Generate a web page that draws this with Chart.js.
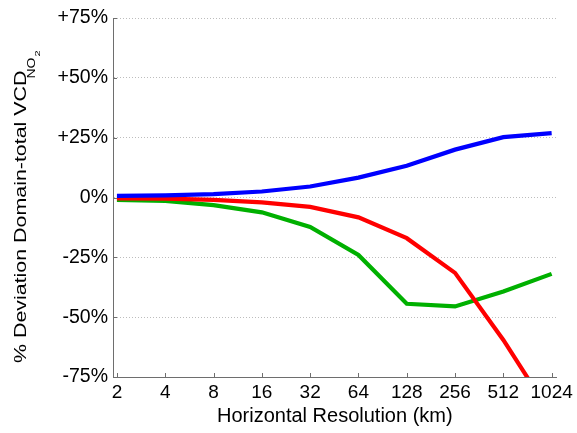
<!DOCTYPE html>
<html>
<head>
<meta charset="utf-8">
<script src="https://cdn.jsdelivr.net/npm/chart.js@4.4.1/dist/chart.umd.min.js"></script>
<style>
html,body{margin:0;padding:0;background:#fff;}
#wrap{width:577px;height:433px;position:relative;}
</style>
</head>
<body>
<div id="wrap"><canvas id="c" width="577" height="433"></canvas></div>
<script>
const resolutions = [2, 4, 8, 16, 32, 64, 128, 256, 512, 1024];
const blueSeries  = [0.7, 0.9, 1.4, 2.5, 4.6, 8.3, 13.3, 20.0, 25.2, 26.9];
const redSeries   = [-0.4, -0.5, -1.0, -2.0, -3.9, -8.3, -17.0, -31.5, -59.5, -91.0];
const greenSeries = [-1.0, -1.4, -3.2, -6.2, -12.3, -24.0, -44.4, -45.5, -39.3, -31.9];
const yTickValues = [-75, -50, -25, 0, 25, 50, 75];
const xTitle = 'Horizontal Resolution (km)';
const yTitleMain = '% Deviation Domain-total VCD';
const yTitleSub = 'NO';
const yTitleSub2 = '2';

const FONT = "'Liberation Sans', Arial, sans-serif";
const AXIS = '#6e6e6e';

const toPts = arr => resolutions.map((r, i) => ({x: r, y: arr[i]}));

const extras = {
  id: 'extras',
  afterDraw(chart) {
    const ctx = chart.ctx;
    const xs = chart.scales.x, ys = chart.scales.y;
    const a = chart.chartArea;
    ctx.save();
    ctx.strokeStyle = AXIS;
    ctx.lineWidth = 1;
    ctx.beginPath();
    resolutions.forEach(r => {
      const px = Math.round(xs.getPixelForValue(r)) + 0.5;
      ctx.moveTo(px, a.bottom);
      ctx.lineTo(px, a.bottom - 4);
    });
    yTickValues.forEach(v => {
      const py = Math.round(ys.getPixelForValue(v)) + 0.5;
      ctx.moveTo(a.left, py);
      ctx.lineTo(a.left + 4, py);
    });
    ctx.stroke();
    ctx.restore();

    // rotated y label with subscripts
    ctx.save();
    ctx.fillStyle = '#000';
    ctx.textAlign = 'left';
    ctx.textBaseline = 'alphabetic';
    ctx.translate(26, 363);
    ctx.rotate(-Math.PI / 2);
    ctx.save();
    ctx.scale(1, 0.75);
    ctx.font = '21.4px ' + FONT;
    ctx.fillText(yTitleMain, 0, 0);
    const w = ctx.measureText(yTitleMain).width;
    ctx.restore();
    ctx.save();
    ctx.translate(w - 8, 9);
    ctx.scale(1, 0.8);
    ctx.font = '14px ' + FONT;
    ctx.fillText(yTitleSub, 0, 0);
    const w2 = ctx.measureText(yTitleSub).width;
    ctx.restore();
    ctx.save();
    ctx.translate(w - 8 + w2 + 1, 13.5);
    ctx.scale(1, 0.7);
    ctx.font = '11px ' + FONT;
    ctx.fillText(yTitleSub2, 0, 0);
    ctx.restore();
    ctx.restore();
  }
};

new Chart(document.getElementById('c'), {
  type: 'line',
  data: {
    datasets: [
      {label: 'blue', data: toPts(blueSeries), borderColor: '#0000ff', backgroundColor: '#0000ff'},
      {label: 'red', data: toPts(redSeries), borderColor: '#ff0000', backgroundColor: '#ff0000'},
      {label: 'green', data: toPts(greenSeries), borderColor: '#00b000', backgroundColor: '#00b000'}
    ]
  },
  options: {
    responsive: false,
    animation: false,
    devicePixelRatio: 1,
    layout: {padding: {top: 18, right: 20, bottom: 0, left: 0}},
    elements: {
      line: {borderWidth: 4.2, tension: 0, fill: false},
      point: {radius: 0, hoverRadius: 0}
    },
    plugins: {legend: {display: false}, tooltip: {enabled: false}, title: {display: false}},
    scales: {
      x: {
        type: 'logarithmic',
        min: 1.89,
        max: 1100,
        afterBuildTicks: s => { s.ticks = resolutions.map(v => ({value: v})); },
        afterFit: s => { s.height = 56; },
        grid: {display: false, drawTicks: false},
        border: {display: true, color: AXIS, width: 1},
        ticks: {
          autoSkip: false, maxRotation: 0, minRotation: 0,
          color: '#000', font: {family: FONT, size: 19}, padding: 4,
          callback: v => String(v)
        },
        title: {display: true, text: xTitle, color: '#000', font: {family: FONT, size: 20}, padding: {top: 0, bottom: 5}}
      },
      y: {
        type: 'linear',
        min: -75,
        max: 75,
        afterBuildTicks: s => { s.ticks = yTickValues.map(v => ({value: v})); },
        afterFit: s => { s.width = 113; },
        grid: {display: true, drawTicks: false, color: '#bdbdbd', lineWidth: 1},
        border: {display: true, color: AXIS, width: 1, dash: [1, 2]},
        ticks: {
          color: '#000', font: {family: FONT, size: 19.5}, padding: 5,
          callback: v => (v > 0 ? '+' + v + '%' : v + '%')
        },
        title: {display: false}
      }
    }
  },
  plugins: [extras]
});
</script>
</body>
</html>
